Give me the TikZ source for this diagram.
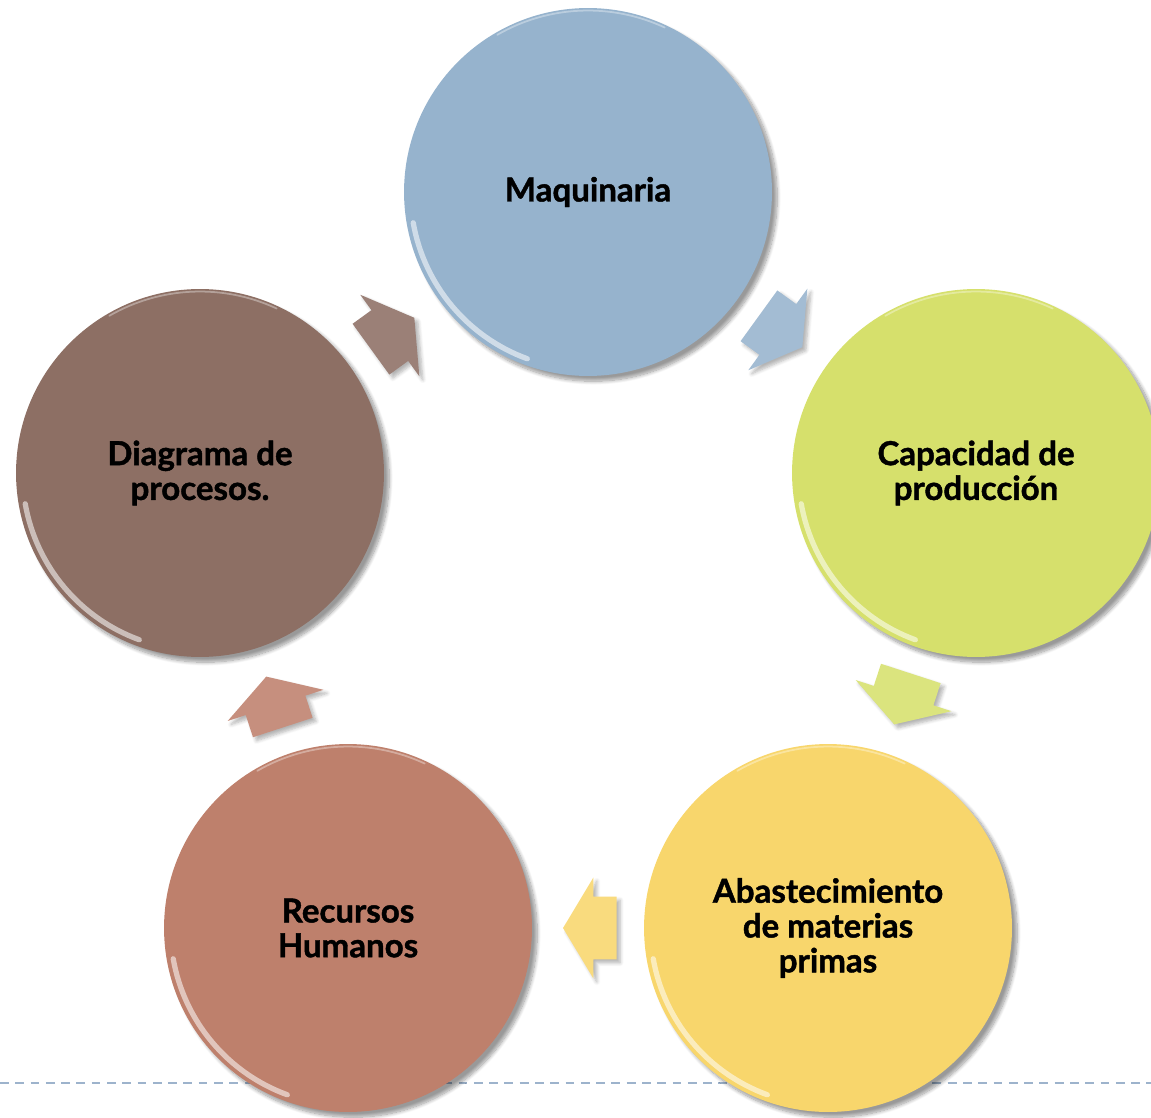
\documentclass[tikz,border=0pt]{standalone}
\usepackage{fontspec}
\setmainfont{Lato}[BoldFeatures={FakeBold=1.3}]
\usetikzlibrary{shapes.arrows,shadows.blur}
\definecolor{maqblue}{RGB}{150,179,205}
\definecolor{capgreen}{RGB}{214,224,108}
\definecolor{abayellow}{RGB}{248,214,108}
\definecolor{recsalmon}{RGB}{190,128,108}
\definecolor{diabrown}{RGB}{141,111,100}
\definecolor{guionline}{RGB}{157,179,204}

\begin{document}
\begin{tikzpicture}[
  x=0.02cm, y=0.02cm,
  etapa/.style={circle, minimum size=7.36cm, inner sep=0pt, outer sep=0pt, align=center,
    font=\fontsize{18.8}{19.8}\selectfont\bfseries, fill=#1,
    blur shadow={shadow xshift=3pt, shadow yshift=-3pt, shadow blur steps=10, shadow opacity=40}},
  flecha/.style={single arrow, inner xsep=0.34cm, inner ysep=0.62cm,
    single arrow head extend=0.38cm, single arrow tip angle=118, sloped, allow upside down,
    pos=0.4, fill=#1!88!white,
    blur shadow={shadow xshift=2pt, shadow yshift=-2pt, shadow blur steps=6, shadow opacity=30}},
  brillo/.style={white, line width=3pt, opacity=0.55, line cap=round},
  guion/.style={guionline, line width=1.1pt, dash pattern=on 5pt off 3.7pt}
]
  \useasboundingbox (0,0) rectangle (1151,1117);

  % linea punteada del pie
  \draw[guion] (0,34) -- (1151,34);

  % etapas del ciclo
  \node[etapa=maqblue] (maq) at (588,925) {Maquinaria};
  \node[etapa=capgreen] (cap) at (976,644) {Capacidad de\\producción};
  \node[etapa=abayellow] (aba) at (828,189) {Abastecimiento\\de materias\\primas};
  \node[etapa=recsalmon] (rec) at (348,189) {Recursos\\Humanos};
  \node[etapa=diabrown] (dia) at (200,644) {Diagrama de\\procesos.};

  % brillo del borde
  \foreach \n in {maq,cap,aba,rec,dia} {
    \draw[brillo, shift={(\n.center)}] (190:3.55cm) arc[start angle=190, end angle=250, radius=3.55cm];
    \draw[brillo, line width=1pt, opacity=0.35, shift={(\n.center)}] (65:3.63cm) arc[start angle=65, end angle=120, radius=3.63cm];
  }

  % flechas entre etapas
  \path (maq) -- node[flecha=maqblue] (f1) {} (cap);
  \path (cap) -- node[flecha=capgreen] (f2) {} (aba);
  \path (aba) -- node[flecha=abayellow] (f3) {} (rec);
  \path (rec) -- node[flecha=recsalmon] (f4) {} (dia);
  \path (dia) -- node[flecha=diabrown] (f5) {} (maq);
\end{tikzpicture}
\end{document}
